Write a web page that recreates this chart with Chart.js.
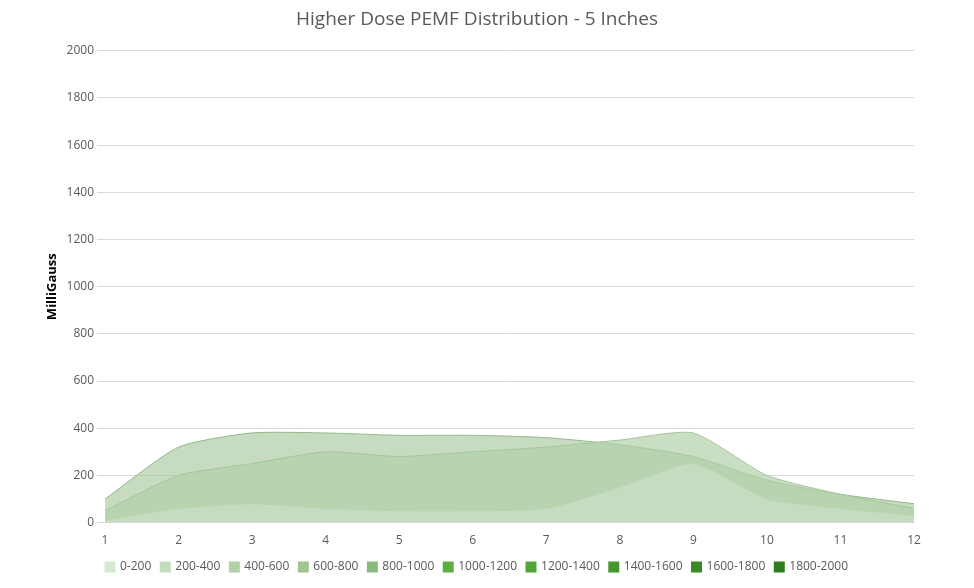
<!DOCTYPE html>
<html><head><meta charset="utf-8">
<script src="https://cdn.jsdelivr.net/npm/chart.js@4/dist/chart.umd.min.js"></script>
<style>html,body{margin:0;background:#fff}#w{width:974px;height:588px}</style>
</head><body><div id="w"><canvas id="c"></canvas></div>
<script>
const categories = ['1','2','3','4','5','6','7','8','9','10','11','12'];
const seriesNames = ['A','B','C'];
const seriesA = [10, 60, 80, 60, 50, 50, 60, 150, 250, 100, 60, 30];
const seriesB = [50, 200, 250, 300, 280, 300, 320, 350, 380, 200, 120, 60];
const seriesC = [100, 320, 380, 380, 370, 370, 360, 330, 280, 180, 120, 80];
const bands = ['0-200','200-400','400-600','600-800','800-1000','1000-1200','1200-1400','1400-1600','1600-1800','1800-2000'];
const bandColors = ['#d5e8d0','#c3dcbb','#b2d1a8','#9fc593','#8bb97e','#5fae45','#52a33a','#46962f','#3a8a26','#2f7d1e'];
const fills = ['rgba(200,222,195,0.85)','rgba(178,208,170,0.7)','rgba(160,195,150,0.6)'];
const lines = ['#b9d4b1','#a5c79b','#92b987'];
const F = 'Open Sans';
new Chart(document.getElementById('c'), {
  type: 'line',
  data: {
    labels: categories,
    datasets: [seriesA, seriesB, seriesC].map((d,i)=>({
      label: seriesNames[i], data: d, fill: 'origin',
      backgroundColor: fills[i], borderColor: lines[i], borderWidth: 1,
      pointRadius: 0, tension: 0.2
    })).concat(bands.map((b,i)=>({label:b,data:[],backgroundColor:bandColors[i],borderColor:bandColors[i]})))
  },
  options: {
    responsive: true, maintainAspectRatio: false, animation: false,
    layout: {padding: {left: 40, right: 60, top: 8, bottom: 5}},
    plugins: {
      title: {display: true, text: 'Higher Dose PEMF Distribution - 5 Inches', color: '#595959',
        font: {family: F, size: 19, weight: 'normal'}, padding: {bottom: 20}},
      legend: {position: 'bottom',
        labels: {boxWidth: 8, boxHeight: 8, color: '#595959', font: {family: F, size: 12},
          filter: (item) => item.datasetIndex >= 3}}
    },
    scales: {
      x: {grid: {display: false}, border: {color: '#d9d9d9'},
        ticks: {color: '#595959', font: {family: F, size: 12}}},
      y: {min: 0, max: 2000, grid: {color: '#d9d9d9'}, border: {display: false},
        ticks: {stepSize: 200, color: '#595959', font: {family: F, size: 12}, callback: v => String(v)},
        title: {display: true, text: 'MilliGauss', color: '#000', font: {family: F, size: 13, weight: 'bold'}}}
    }
  }
});
</script></body></html>
